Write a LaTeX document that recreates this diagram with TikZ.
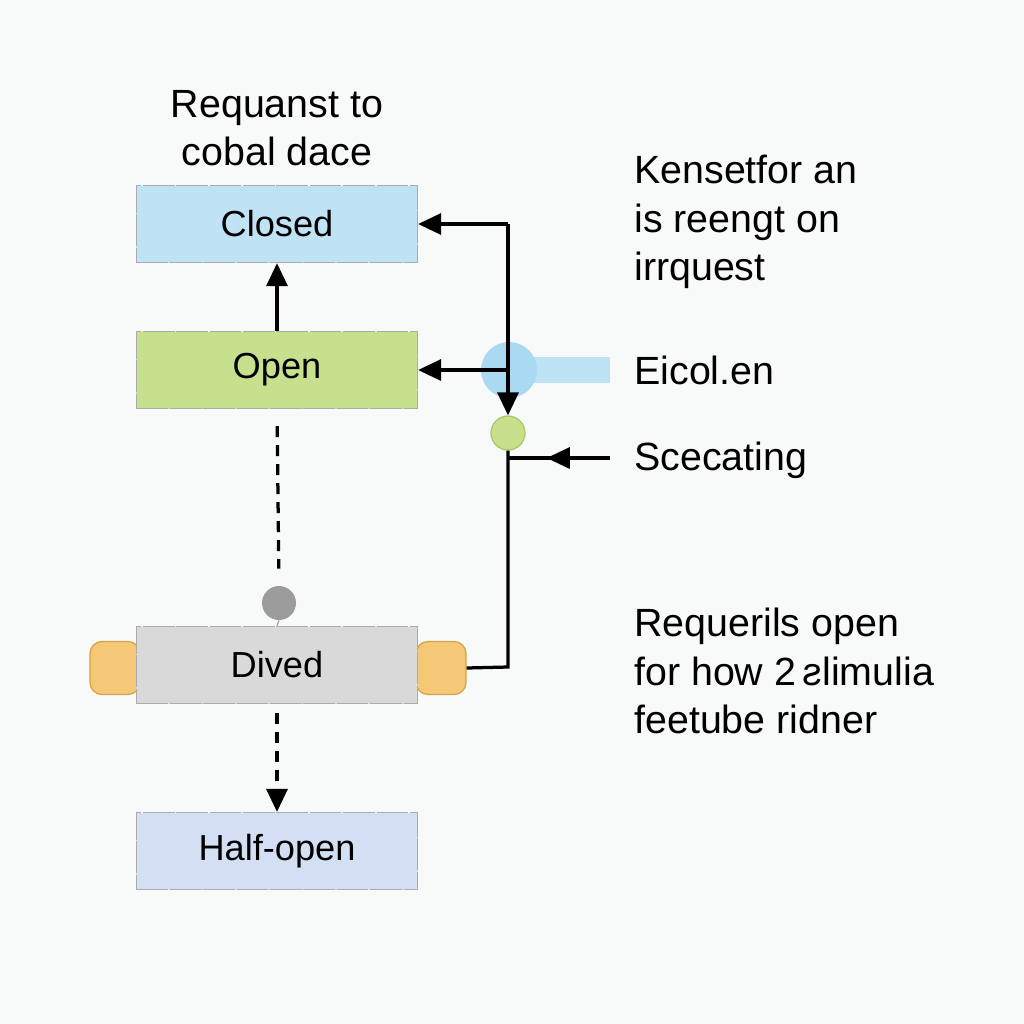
\documentclass[tikz,border=0pt]{standalone}
\usepackage{fontspec}
\setmainfont{Liberation Sans}
\usetikzlibrary{arrows.meta,decorations.markings}
\definecolor{bgpage}{HTML}{F8F9F9}
\definecolor{closedblue}{HTML}{BFE3F4}
\definecolor{opengreen}{HTML}{C6E08E}
\definecolor{divedgray}{HTML}{D9D9D9}
\definecolor{halfblue}{HTML}{D3E0F4}
\definecolor{tabfill}{HTML}{F4C877}
\definecolor{tabline}{HTML}{D5A342}
\definecolor{dotgray}{HTML}{9C9C9C}
\definecolor{knobgreen}{HTML}{C8E08C}
\definecolor{knobline}{HTML}{A9C765}
\definecolor{glowblue}{HTML}{A9DAF1}
\definecolor{barblue}{HTML}{BCE2F4}
\tikzset{
  statebox/.style={draw=gray!65, line width=0.7pt, dash pattern=on 18pt off 1pt,
    minimum width=56.2mm, minimum height=15.4mm, inner sep=0pt,
    font=\fontsize{20.6pt}{26pt}\selectfont},
  bigfont/.style={font=\fontsize{22.4pt}{27.6pt}\selectfont},
  conn/.style={line width=0.65mm, black},
  tip/.style={-{Triangle[length=4.6mm,width=4.2mm]}},
  dashconn/.style={conn, dash pattern=on 2.2mm off 1.6mm},
  midarrow/.style={decoration={markings,
    mark=at position 0.62 with {\arrow{Triangle[length=4.6mm,width=4.2mm]}}},
    postaction={decorate}},
  tabbox/.style={draw=tabline, fill=tabfill, line width=0.7pt, rounded corners=2.4mm,
    minimum width=10mm, minimum height=10.6mm, inner sep=0pt},
  note/.style={bigfont, align=left, anchor=west, inner sep=0pt}
}
\begin{document}
\begin{tikzpicture}[x=0.2mm,y=-0.2mm]
  \fill[bgpage] (0,0) rectangle (1024,1024);
  \useasboundingbox (0,0) rectangle (1024,1024);

  % side tabs behind the Dived box
  \node[tabbox] (tabL) at (115,668) {};
  \node[tabbox] (tabR) at (441,668) {};

  % states
  \node[statebox, fill=closedblue] (closed) at (277,224) {Closed};
  \node[statebox, fill=opengreen] (open) at (277,370) {Open};
  \node[statebox, fill=divedgray] (dived) at (277,665) {Dived};
  \node[statebox, fill=halfblue] (halfopen) at (277,851) {Half-open};

  \node[bigfont, align=center] (title) at (277,128) {Requanst to\\cobal dace};

  % glow and knobs on the right line
  \fill[barblue] (510,357) rectangle (610,383);
  \node[circle, fill=glowblue, minimum size=11.2mm, inner sep=0pt] (glow) at (509,370) {};
  \node[circle, draw=knobline, fill=knobgreen, line width=0.7pt, minimum size=6.8mm, inner sep=0pt] (knob) at (508,433) {};
  \node[circle, fill=dotgray, minimum size=6.8mm, inner sep=0pt] (dot) at (279,603) {};

  \coordinate (ctop) at (508,224);
  \coordinate (jopen) at (508,370);
  \coordinate (jsc) at (508,458);
  \coordinate (scin) at (610,458);
  \coordinate (cbot) at (508,667);

  % connectors
  \draw[conn, tip] (open.north) -- (closed.south);
  \draw[conn, tip] (ctop) -- (closed.east);
  \draw[conn, tip] (ctop) -- (knob.north);
  \draw[conn, tip] (jopen) -- (open.east);
  \draw[conn] (knob.south) -- (cbot) -- (tabR.east);
  \draw[conn, midarrow] (scin) -- (jsc);
  \draw[dashconn, shorten <=3.4mm, shorten >=3.4mm] (open.south) -- (dot.north);
  \draw[dashconn, tip, shorten <=1.8mm] (dived.south) -- (halfopen.north);
  \draw[gray!70, line width=0.7pt] (dot.south) -- (dived.north);

  % notes
  \node[note] (kenset) at (634,222) {Kensetfor an\\is reengt on\\irrquest};
  \node[note] (eicol) at (634,370) {Eicol.en};
  \node[note] (scec) at (634,460) {Scecating};
  \node[note] (requ) at (634,671) {Requerils open\\for how 2\,ƨlimulia\\feetube ridner};
\end{tikzpicture}
\end{document}
